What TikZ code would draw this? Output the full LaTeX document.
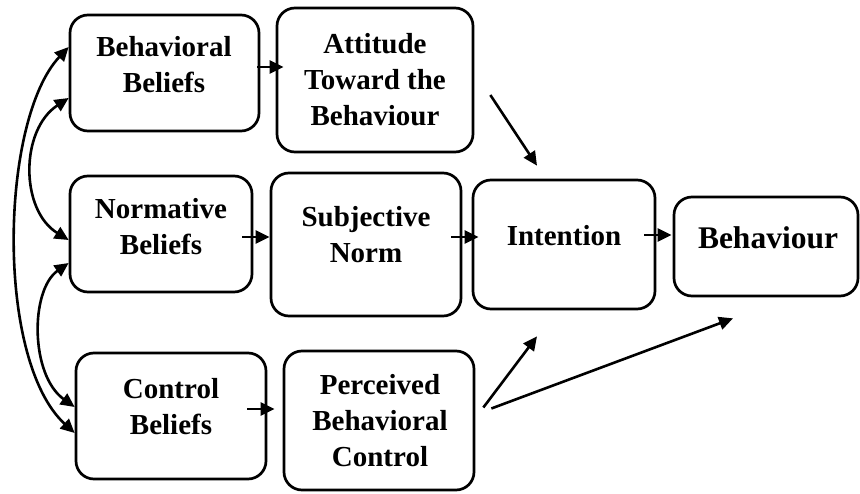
\documentclass[tikz,border=0pt]{standalone}
\usepackage{fontspec}
\setmainfont{Liberation Serif}
\usetikzlibrary{arrows.meta,calc}
\tikzset{
  box/.style={draw, line width=2.7pt, rounded corners=18pt, inner sep=0pt},
  lbl/.style={anchor=north, inner sep=0pt, align=center, font=\fontsize{29}{36}\selectfont\bfseries},
  arr/.style={line width=2.6pt, -{Triangle[length=14pt,width=13pt]}},
  darr/.style={line width=2.6pt, {Triangle[length=14pt,width=13pt]}-{Triangle[length=14pt,width=13pt]}}
}
\begin{document}
\begin{tikzpicture}[x=1pt,y=-1pt]
\useasboundingbox (0,0) rectangle (860,493);
% boxes
\node[box, minimum width=189pt, minimum height=116pt] (bb)  at (164.5,73) {};
\node[box, minimum width=196pt, minimum height=144pt] (atb) at (375,80) {};
\node[box, minimum width=182pt, minimum height=116pt] (nb)  at (161,234) {};
\node[box, minimum width=190pt, minimum height=143pt] (sn)  at (366,244.5) {};
\node[box, minimum width=182pt, minimum height=129pt] (int) at (564,244.5) {};
\node[box, minimum width=184pt, minimum height=99pt]  (beh) at (766,246.5) {};
\node[box, minimum width=190pt, minimum height=126pt] (cb)  at (171,416) {};
\node[box, minimum width=190pt, minimum height=139pt] (pbc) at (379,420.5) {};
% texts
\node[lbl] (bbt)  at (164,36)  {Behavioral\\Beliefs};
\node[lbl] (atbt) at (375,33)  {Attitude\\Toward the\\Behaviour};
\node[lbl] (nbt)  at (161,198) {Normative\\Beliefs};
\node[lbl] (snt)  at (366,206) {Subjective\\Norm};
\node[lbl] (intt) at (564,225) {Intention};
\node[lbl, font=\fontsize{31.5}{38}\selectfont\bfseries] (beht) at (768,226.5) {Behaviour};
\node[lbl] (cbt)  at (171,378) {Control\\Beliefs};
\node[lbl] (pbct) at (380,374) {Perceived\\Behavioral\\Control};
% straight arrows
\draw[arr] ($(bb.east)+(-3,-6)$) -- ($(atb.west)+(8,-13)$);
\draw[arr] ($(nb.east)+(-11,3)$) -- ($(sn.west)+(0,-7.5)$);
\draw[arr] ($(sn.east)+(-11,-7.5)$) -- ($(int.west)+(7,-7.5)$);
\draw[arr] ($(int.east)+(-12,-9.5)$) -- ($(beh.west)+(-1,-11.5)$);
\draw[arr] ($(cb.east)+(-20,-7)$) -- ($(pbc.west)+(-8,-11.5)$);
% diagonal arrows
\draw[arr] ($(atb.east)+(16,15)$) -- ($(int.north)+(-27,-13)$);
\draw[arr] ($(pbc.east)+(8,-13)$) -- ($(int.south)+(-27,26)$);
\draw[arr] ($(pbc.east)+(16,-12)$) -- ($(beh.south)+(-33,21)$);
% curved double arrows
\draw[darr] ($(bb.west)+(0,-26)$) .. controls (0,120) and (-5,360) .. ($(cb.west)+(0,17)$);
\draw[darr] ($(bb.west)+(0,25)$) .. controls (20,130) and (20,210) .. ($(nb.west)+(0,6)$);
\draw[darr] ($(nb.west)+(0,29)$) .. controls (30,290) and (30,375) .. ($(cb.west)+(0,-9)$);
\end{tikzpicture}
\end{document}
